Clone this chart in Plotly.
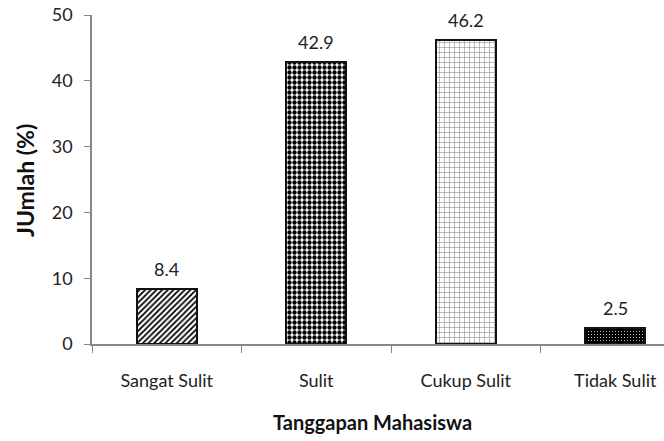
import plotly.graph_objects as go

categories = ["Sangat Sulit", "Sulit", "Cukup Sulit", "Tidak Sulit"]
values = [8.4, 42.9, 46.2, 2.5]
value_labels = ["8.4", "42.9", "46.2", "2.5"]

shapes = ["/", ".", "+", "."]
fg = ["black", "black", "#999999", "white"]
bg = ["white", "white", "white", "black"]
sizes = [4, 5, 5, 3]
solid = [0.45, 0.6, 0.25, 0.1]

FONT = "Lato, 'Open Sans', sans-serif"
W, H = 664, 441
L, T, B, R = 92, 15, 97, 0
PW, PH = W - L - R, H - T - B


def px_x(page_x):
    return (page_x - L) / PW


def px_y(page_y):
    return (H - B - page_y) / PH


fig = go.Figure()
fig.add_trace(go.Bar(
    x=categories, y=values, width=0.4,
    marker=dict(
        color="white",
        line=dict(color="#111", width=2),
        pattern=dict(shape=shapes, fgcolor=fg, bgcolor=bg, size=sizes,
                     solidity=solid, fillmode="replace"),
    ),
    hoverinfo="x+y",
))

for c, v, t in zip(categories, values, value_labels):
    fig.add_annotation(x=c, y=v, text=t, showarrow=False, yanchor="middle",
                       yshift=20, font=dict(size=18, family=FONT, color="#222"))

fig.update_layout(
    width=W, height=H,
    margin=dict(l=L, r=R, t=T, b=B, autoexpand=False),
    paper_bgcolor="white", plot_bgcolor="white",
    font=dict(family=FONT, size=18, color="#222"),
    showlegend=False,
    bargap=0,
)
fig.update_xaxes(
    range=[-0.5, -0.5 + PW / 149.5], showline=True, linecolor="#888", linewidth=1.5,
    ticks="outside", tickson="boundaries", ticklen=7, tickcolor="#888",
    showgrid=False, automargin=False,
    tickfont=dict(size=18, family=FONT, color="#222"),
    ticklabelstandoff=20,
)
fig.update_yaxes(
    range=[0, 50], dtick=10, showline=True, linecolor="#888", linewidth=1.5,
    ticks="outside", ticklen=6, tickcolor="#888", showgrid=False,
    zeroline=False, automargin=False, ticklabelstandoff=8,
    ticklabeloverflow="allow",
    tickfont=dict(size=18, family=FONT, color="#222"),
)
fig.add_annotation(
    text="<b>Tanggapan Mahasiswa</b>", xref="paper", yref="paper",
    x=px_x(372), y=px_y(422), xanchor="center", yanchor="middle",
    showarrow=False, font=dict(size=20, family=FONT, color="#111"),
)
fig.add_annotation(
    text="<b>JUmlah (%)</b>", xref="paper", yref="paper", textangle=-90,
    x=px_x(25), y=px_y(181), xanchor="center", yanchor="middle",
    showarrow=False, font=dict(size=23, family=FONT, color="#111"),
)

fig.write_html("out.html", config={"displayModeBar": False},
               post_script="document.body.style.margin='0px';document.body.style.overflow='hidden';")
